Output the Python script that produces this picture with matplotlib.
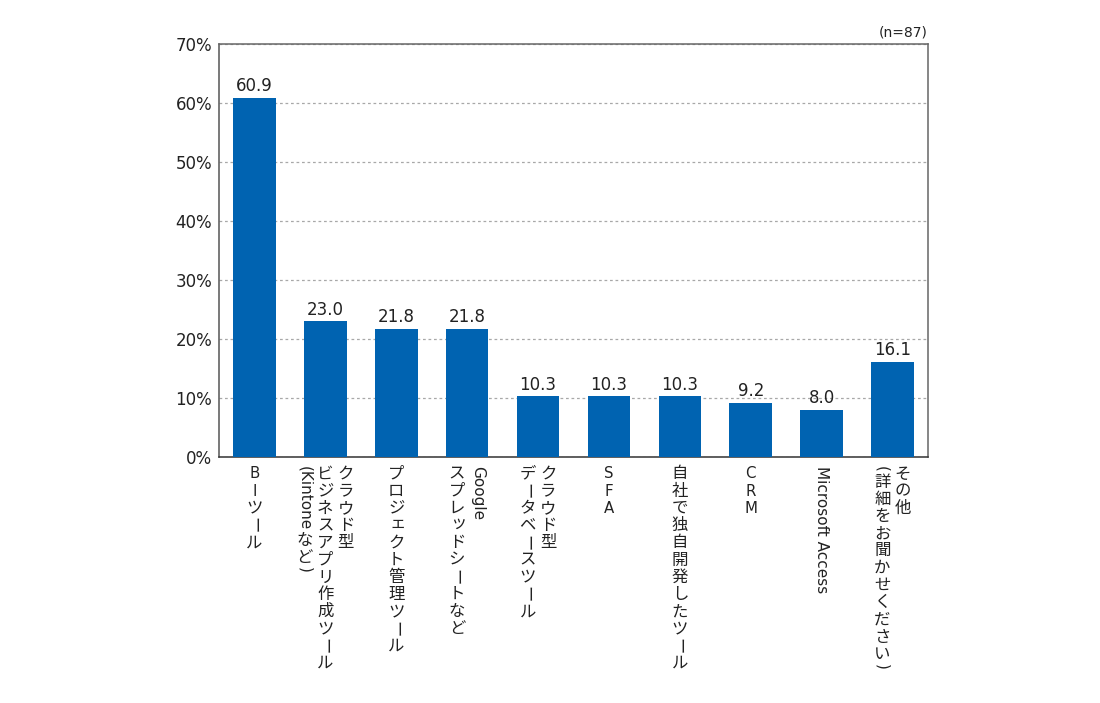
import matplotlib
matplotlib.use("Agg")
import matplotlib.pyplot as plt
import matplotlib.transforms as mtransforms

plt.rcParams['font.family'] = ['DejaVu Sans', 'Noto Sans CJK JP']

# ---- data ----
category_lines = [
    ["ＢＩツール"],
    ["クラウド型", "ビジネスアプリ作成ツール", "(Kintoneなど)"],
    ["プロジェクト管理ツール"],
    ["Google", "スプレッドシートなど"],
    ["クラウド型", "データベースツール"],
    ["ＳＦＡ"],
    ["自社で独自開発したツール"],
    ["ＣＲＭ"],
    ["Microsoft Access"],
    ["その他", "(詳細をお聞かせください)"],
]
values = [60.9, 23.0, 21.8, 21.8, 10.3, 10.3, 10.3, 9.2, 8.0, 16.1]
yticks = [0, 10, 20, 30, 40, 50, 60, 70]
ytick_labels = ["0%", "10%", "20%", "30%", "40%", "50%", "60%", "70%"]
note = "(n=87)"

BAR_COLOR = "#0063B1"
TEXT_COLOR = "#222222"

fig = plt.figure(figsize=(11, 7.03), dpi=100)
ax = fig.add_axes([0.1991, 0.3499, 0.6445, 0.5868])

x = list(range(len(values)))
bars = ax.bar(x, values, width=0.6, color=BAR_COLOR, zorder=3)

ax.set_xlim(-0.5, len(values) - 0.5)
ax.set_ylim(0, 70)
ax.set_yticks(yticks)
ax.set_yticklabels(ytick_labels, fontsize=12, color=TEXT_COLOR)
ax.tick_params(axis='y', length=0, pad=5)
ax.set_xticks([])
ax.grid(axis='y', linestyle=(0, (2.2, 2.2)), color='#A8A8A8', linewidth=0.9, zorder=0)

for name, sp in ax.spines.items():
    sp.set_color('#666666')
    sp.set_linewidth(1.1)
ax.spines['bottom'].set_color('#333333')
ax.spines['left'].set_color('#555555')

for xi, v in zip(x, values):
    ax.annotate(f"{v:.1f}", (xi, v), xytext=(0, 2), textcoords='offset points',
                ha='center', va='bottom', fontsize=12, color=TEXT_COLOR)

ax.text(1.0, 1.012, note, transform=ax.transAxes, ha='right', va='bottom',
        fontsize=10, color=TEXT_COLOR)

# ---- vertical (tategaki) category labels ----
renderer = fig.canvas.get_renderer()
FS = 11.8
FS_UPRIGHT_LATIN = 10.8
FS_LATIN = 11
STEP = 12.4      # points per upright character cell
COLSEP = 14.8    # points between columns
START = 6.0      # points below the axis
SMALL_KANA = set("ァィゥェォッャュョヮぁぃぅぇぉっゃゅょ")
ROTATE_CHARS = set("ー")
CJK_FAMILY = ['Noto Sans CJK JP', 'DejaVu Sans']


def segments(s):
    segs = []
    run = ""
    for ch in s:
        if ord(ch) < 0x2E80:
            run += ch
        else:
            if run:
                segs.append(("run", run))
                run = ""
            segs.append(("char", ch))
    if run:
        segs.append(("run", run))
    return segs


base = mtransforms.blended_transform_factory(ax.transData, ax.transAxes)
pt2px = fig.dpi / 72.0

for xi, lines in zip(x, category_lines):
    n = len(lines)
    for j, line in enumerate(lines):
        xo = ((n - 1) / 2.0 - j) * COLSEP
        y = START
        for kind, s in segments(line):
            if kind == "char":
                dx, dy = 0, 0
                rot = 0
                fam = CJK_FAMILY
                fs = FS
                if 0xFF01 <= ord(s) <= 0xFF5E:
                    s = chr(ord(s) - 0xFEE0)   # full-width Latin drawn upright
                    fam = ['DejaVu Sans']
                    fs = FS_UPRIGHT_LATIN
                if s in SMALL_KANA:
                    dx, dy = 1.2, 1.5
                if s in ROTATE_CHARS:
                    rot = -90
                tr = mtransforms.offset_copy(base, fig=fig, x=xo + dx,
                                             y=-(y + STEP / 2.0) + dy, units='points')
                ax.text(xi, 0, s, transform=tr, ha='center', va='center',
                        rotation=rot, fontsize=fs, family=fam,
                        color=TEXT_COLOR, clip_on=False)
                y += STEP
            else:
                y += 0.8
                tr = mtransforms.offset_copy(base, fig=fig, x=xo, y=-y, units='points')
                t = ax.text(xi, 0, s, transform=tr, ha='center', va='top',
                            rotation=-90, fontsize=FS_LATIN, color=TEXT_COLOR,
                            clip_on=False)
                h = t.get_window_extent(renderer=renderer).height / pt2px
                y += h + 0.8

fig.savefig("out.png", dpi=100)
